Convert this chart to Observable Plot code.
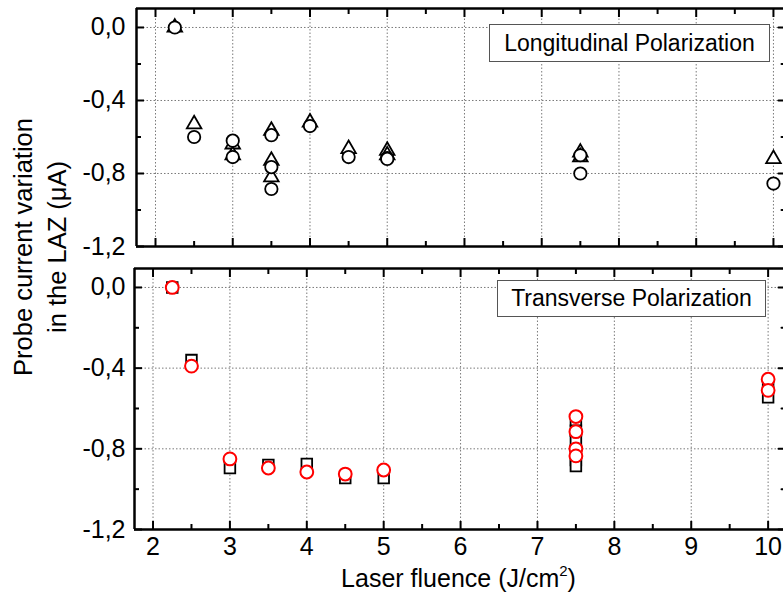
<!DOCTYPE html>
<html><head><meta charset="utf-8">
<script src="https://cdn.jsdelivr.net/npm/d3@7"></script>
<script src="https://cdn.jsdelivr.net/npm/@observablehq/plot@0.6"></script>
<style>
html,body{margin:0;padding:0;background:#fff;}
#wrap{position:relative;width:783px;height:594px;overflow:hidden;font-family:"Liberation Sans",Arial,sans-serif;color:#000;background:#fff;}
#wrap svg{position:absolute;left:0;max-width:none !important;}
.legend{position:absolute;box-sizing:border-box;border:1px solid #555;background:#fff;text-align:center;font-size:23px;white-space:nowrap;}
#ytitle{position:absolute;left:-110px;top:213px;width:300px;height:68px;line-height:34px;font-size:25.5px;text-align:center;transform:rotate(-90deg);white-space:nowrap;}
#xtitle{position:absolute;left:134px;width:649px;top:566px;font-size:25px;line-height:25px;text-align:center;white-space:nowrap;}
</style></head><body><div id="wrap"></div>
<script>
// ---- tick values ----
const xMajor = [2, 3, 4, 5, 6, 7, 8, 9, 10];
const xMinor = [2.5, 3.5, 4.5, 5.5, 6.5, 7.5, 8.5, 9.5];
const yMajor = [0, -0.4, -0.8, -1.2];
const yMinor = [-0.2, -0.6, -1.0];
const yGrid = [0, -0.4, -0.8];

// ---- Longitudinal polarization (top panel) ----
const longTriX  = [2.25, 2.5, 3, 3, 3.5, 3.5, 3.5, 4, 4.5, 5, 5, 7.5, 7.5, 10];
const longTriY  = [0.0, -0.53, -0.64, -0.70, -0.565, -0.73, -0.82, -0.52, -0.665, -0.675, -0.70, -0.685, -0.71, -0.72];
const longCircX = [2.25, 2.5, 3, 3, 3.5, 3.5, 3.5, 4, 4.5, 5, 5, 7.5, 7.5, 10];
const longCircY = [0.0, -0.60, -0.62, -0.71, -0.59, -0.765, -0.885, -0.54, -0.71, -0.715, -0.72, -0.70, -0.80, -0.855];

// ---- Transverse polarization (bottom panel) ----
const transSqX   = [2.25, 2.5, 3, 3.5, 4, 4.5, 5, 7.5, 7.5, 7.5, 7.5, 7.5, 7.5, 10, 10];
const transSqY   = [0.0, -0.36, -0.895, -0.88, -0.875, -0.945, -0.945, -0.66, -0.71, -0.76, -0.81, -0.855, -0.885, -0.48, -0.545];
const transCircX = [2.25, 2.5, 3, 3.5, 4, 4.5, 5, 7.5, 7.5, 7.5, 7.5, 10, 10];
const transCircY = [0.0, -0.39, -0.85, -0.895, -0.915, -0.925, -0.905, -0.64, -0.715, -0.80, -0.835, -0.455, -0.51];

const xTitle = "Laser fluence (J/cm";
const yTitle1 = "Probe current variation";
const yTitle2 = "in the LAZ (\u03bcA)";
const legendTop = "Longitudinal Polarization";
const legendBottom = "Transverse Polarization";

const zip = (xs, ys) => xs.map((x, i) => ({x, y: ys[i]}));
const fmt = d => d3.format(".1f")(d).replace(".", ",").replace("\u2212", "-");
const tickShape = {draw(context, l) { context.moveTo(0, 0); context.lineTo(0, -l); }};

function panel({xDomain, yDomain, width, height, mt, mb, ml, dataMarks, xLabels}) {
  const grid = [
    Plot.gridX(xMajor, {stroke: "#7a7a7a", strokeOpacity: 1, strokeWidth: 1, strokeDasharray: "1.5,2"}),
    Plot.gridY(yGrid, {stroke: "#7a7a7a", strokeOpacity: 1, strokeWidth: 1, strokeDasharray: "1.5,2"}),
  ];
  const rightTicks = (vals, len) => Plot.vector(vals, {
    x: () => xDomain[1], y: d => d, length: len, rotate: -90, anchor: "start",
    shape: tickShape, stroke: "black", strokeWidth: 2
  });
  const axes = [
    // left
    Plot.axisY(yMajor, {anchor: "left", tickSize: -8, fill: "none", strokeWidth: 2, label: null}),
    Plot.axisY(yMinor, {anchor: "left", tickSize: -5, fill: "none", strokeWidth: 2, label: null}),
    Plot.axisY(yMajor, {anchor: "left", tickSize: 0, tickPadding: ml === 136 ? 11 : 9, tickFormat: fmt, fontSize: 25, label: null}),
    // right (ticks only, axis line lies just outside the picture)
    rightTicks(yMajor, 8),
    rightTicks(yMinor, 5),
    // top
    Plot.axisX(xMajor, {anchor: "top", tickSize: -8, fill: "none", strokeWidth: 2, label: null}),
    Plot.axisX(xMinor, {anchor: "top", tickSize: -5, fill: "none", strokeWidth: 2, label: null}),
    // bottom
    Plot.axisX(xMajor, {anchor: "bottom", tickSize: -8, fill: "none", strokeWidth: 2, label: null}),
    Plot.axisX(xMinor, {anchor: "bottom", tickSize: -5, fill: "none", strokeWidth: 2, label: null}),
    Plot.ruleX([xDomain[0]], {stroke: "black", strokeWidth: 2.5}),
    Plot.ruleY([yDomain[0], yDomain[1]], {stroke: "black", strokeWidth: 2.5}),
  ];
  if (xLabels) axes.push(Plot.axisX(xMajor, {anchor: "bottom", tickSize: 0, tickPadding: 8, tickFormat: d => String(d), fontSize: 25, label: null}));
  return Plot.plot({
    width, height,
    marginTop: mt, marginBottom: mb, marginLeft: ml, marginRight: 0,
    x: {domain: xDomain, label: null, axis: null},
    y: {domain: yDomain, label: null, axis: null},
    style: {fontFamily: "'Liberation Sans', Arial, sans-serif", fontSize: "25px", background: "transparent", color: "black", overflow: "visible"},
    marks: [...grid, ...dataMarks, ...axes]
  });
}

const topPlot = panel({
  xDomain: [1.754, 10.169], yDomain: [-1.2, 0.104],
  width: 786, height: 250, mt: 8, mb: 4, ml: 136,
  dataMarks: [
    Plot.dot(zip(longTriX, longTriY), {x: "x", y: "y", symbol: "triangle", r: 5.4, stroke: "black", fill: "white", strokeWidth: 1.8}),
    Plot.dot(zip(longCircX, longCircY), {x: "x", y: "y", symbol: "circle", r: 6.2, stroke: "black", fill: "white", strokeWidth: 1.8}),
  ]
});
const bottomPlot = panel({
  xDomain: [1.759, 10.239], yDomain: [-1.2, 0.094],
  width: 786, height: 344, mt: 18, mb: 65, ml: 134, xLabels: true,
  dataMarks: [
    Plot.dot(zip(transSqX, transSqY), {x: "x", y: "y", symbol: "square", r: 6.0, stroke: "black", fill: "white", strokeWidth: 1.8}),
    Plot.dot(zip(transCircX, transCircY), {x: "x", y: "y", symbol: "circle", r: 6.4, stroke: "#ff0000", fill: "white", strokeWidth: 2}),
  ]
});

const wrap = document.getElementById("wrap");
topPlot.style.top = "0px";
bottomPlot.style.top = "250px";
wrap.appendChild(topPlot);
wrap.appendChild(bottomPlot);

function addDiv(cls, id, html, style) {
  const d = document.createElement("div");
  if (cls) d.className = cls;
  if (id) d.id = id;
  d.innerHTML = html;
  Object.assign(d.style, style || {});
  wrap.appendChild(d);
  return d;
}
addDiv("legend", null, legendTop, {left: "489px", top: "24px", width: "281px", height: "38px", lineHeight: "36px"});
addDiv("legend", null, legendBottom, {left: "497px", top: "280px", width: "269px", height: "37px", lineHeight: "35px"});
addDiv(null, "ytitle", yTitle1 + "<br>" + yTitle2);
addDiv(null, "xtitle", xTitle + '<span style="font-size:15px;position:relative;top:-11px">2</span>)');
</script></body></html>
